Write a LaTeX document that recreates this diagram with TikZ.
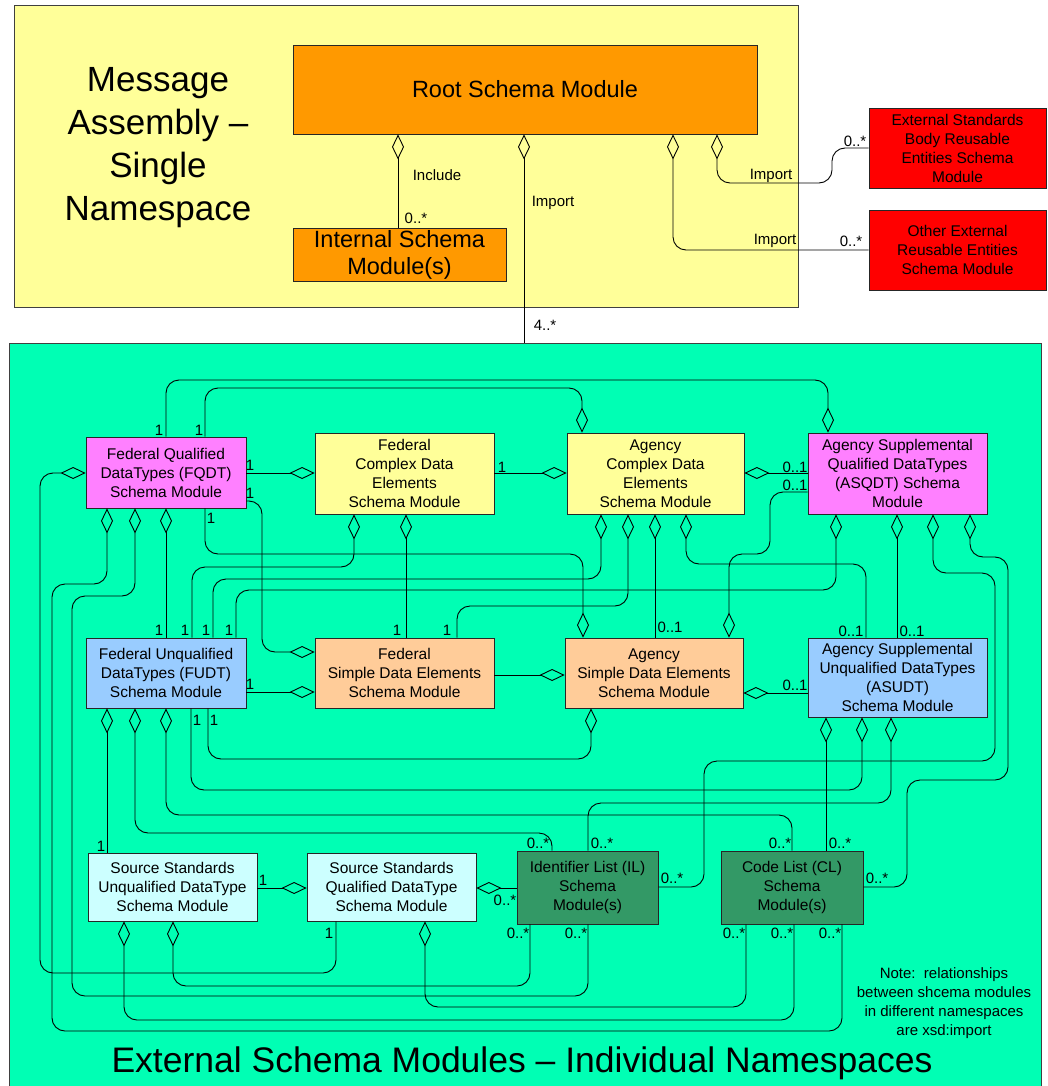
\documentclass[tikz,border=0pt]{standalone}
\usepackage{fontspec}
\setmainfont{Liberation Sans}
\usetikzlibrary{arrows.meta}
\definecolor{topbg}{RGB}{255,255,153}
\definecolor{grn}{RGB}{0,255,180}
\definecolor{mag}{RGB}{255,128,255}
\definecolor{lyel}{RGB}{255,255,153}
\definecolor{peach}{RGB}{255,204,153}
\definecolor{lblue}{RGB}{153,204,255}
\definecolor{lcyan}{RGB}{204,255,255}
\definecolor{dgreen}{RGB}{51,153,102}
\definecolor{orng}{RGB}{255,153,0}
\definecolor{rred}{RGB}{255,0,0}
\begin{document}
\begin{tikzpicture}[x=1pt,y=-1pt,
  frame/.style={draw=black!75, line width=0.8pt, inner sep=0pt},
  box/.style={draw=black!85, line width=0.8pt, inner sep=1pt, align=center, font=\fontsize{15.5}{19}\selectfont},
  lbl/.style={inner sep=0pt, font=\fontsize{15}{18}\selectfont},
  conn/.style={draw=black, line width=0.9pt, rounded corners=13pt},
  agg/.style={conn, {Diamond[open,length=25pt,width=12pt]}-}
]
\useasboundingbox (0,0) rectangle (1047,1086);

% frames
\node[frame, fill=topbg, minimum width=784pt, minimum height=302pt] (topframe) at (406,156) {};
\node[frame, fill=grn, minimum width=1032pt, minimum height=749pt] (extframe) at (525,717.5) {};

\node[align=center, inner sep=0pt, font=\fontsize{35}{43}\selectfont] (ttltop) at (158,148) {Message\\Assembly --\\Single\\Namespace};
\node[inner sep=0pt, font=\fontsize{35.5}{40}\selectfont] (ttlbot) at (522,1063) {External Schema Modules -- Individual Namespaces};
\node[align=center, inner sep=0pt, font=\fontsize{15}{19.2}\selectfont] (note) at (944,1003) {Note:\ \ relationships\\between shcema modules\\in different namespaces\\are xsd:import};

% top boxes
\node[box, fill=orng, minimum width=464pt, minimum height=89pt, font=\fontsize{23.5}{27}\selectfont] (root) at (525,89.5) {Root Schema Module};
\node[box, fill=orng, minimum width=213pt, minimum height=53pt, font=\fontsize{23.5}{27}\selectfont] (internal) at (399.5,254.5) {Internal Schema\\Module(s)};
\node[box, fill=rred, minimum width=177pt, minimum height=80pt] (ext1) at (957.5,148) {External Standards\\Body Reusable\\Entities Schema\\Module};
\node[box, fill=rred, minimum width=177pt, minimum height=80pt] (ext2) at (957.5,250) {Other External\\Reusable Entities\\Schema Module};

% lower boxes
\node[box, fill=mag, minimum width=160pt, minimum height=71pt] (fqdt) at (166,472.5) {Federal Qualified\\DataTypes (FQDT)\\Schema Module};
\node[box, fill=lyel, minimum width=179pt, minimum height=81pt] (fedc) at (404.5,473.5) {Federal\\Complex Data\\Elements\\Schema Module};
\node[box, fill=lyel, minimum width=177pt, minimum height=81pt] (agc) at (655.5,473.5) {Agency\\Complex Data\\Elements\\Schema Module};
\node[box, fill=mag, minimum width=179pt, minimum height=81pt] (asqdt) at (897.5,473.5) {Agency Supplemental\\Qualified DataTypes\\(ASQDT) Schema\\Module};
\node[box, fill=lblue, minimum width=160pt, minimum height=70pt] (fudt) at (166,673) {Federal Unqualified\\DataTypes (FUDT)\\Schema Module};
\node[box, fill=peach, minimum width=179pt, minimum height=70pt] (feds) at (404.5,673) {Federal\\Simple Data Elements\\Schema Module};
\node[box, fill=peach, minimum width=178pt, minimum height=70pt] (ags) at (654,673) {Agency\\Simple Data Elements\\Schema Module};
\node[box, fill=lblue, minimum width=179pt, minimum height=79pt] (asudt) at (897.5,677.5) {Agency Supplemental\\Unqualified DataTypes\\(ASUDT)\\Schema Module};
\node[box, fill=lcyan, minimum width=169pt, minimum height=68pt] (ssudt) at (172.5,887) {Source Standards\\Unqualified DataType\\Schema Module};
\node[box, fill=lcyan, minimum width=169pt, minimum height=68pt] (ssqdt) at (391.5,887) {Source Standards\\Qualified DataType\\Schema Module};
\node[box, fill=dgreen, minimum width=141pt, minimum height=73pt] (il) at (587.5,887.5) {Identifier List (IL)\\Schema\\Module(s)};
\node[box, fill=dgreen, minimum width=142pt, minimum height=73pt] (cl) at (792,887.5) {Code List (CL)\\Schema\\Module(s)};

% top connectors
\draw[agg] (root.south -| 398,0) -- (internal.north -| 398,0);
\draw[agg] (root.south -| 524,0) -- (extframe.north -| 524,0);
\draw[agg] (root.south -| 717,0) -- (717,183) -- (832,183) -- (832,148) -- (ext1.west |- 0,148);
\draw[agg] (root.south -| 673,0) -- (673,250) -- (ext2.west |- 0,250);
\node[lbl] (tInc) at (437,175) {Include};
\node[lbl] (tIncM) at (416,218) {0..*};
\node[lbl] (tImp) at (553,203) {Import};
\node[lbl] (tImpM) at (545,325) {4..*};
\node[lbl] (tImp1) at (771,176) {Import};
\node[lbl] (tImp1M) at (855,141) {0..*};
\node[lbl] (tImp2) at (775,241) {Import};
\node[lbl] (tImp2M) at (851,241) {0..*};

% lower connectors
\draw[agg] (asqdt.north -| 828,0) -- (828,380) -- (166,380) -- (fqdt.north -| 166,0);
\draw[agg] (agc.north -| 582,0) -- (582,388) -- (205,388) -- (fqdt.north -| 205,0);
\draw[agg] (fedc.west |- 0,473) -- (fqdt.east |- 0,473);
\draw[agg] (agc.west |- 0,473) -- (fedc.east |- 0,473);
\draw[agg] (agc.east |- 0,473) -- (asqdt.west |- 0,473);
\draw[agg] (ags.north -| 729,0) -- (729,554) -- (770,554) -- (770,492) -- (asqdt.west |- 0,492);
\draw[agg] (feds.west |- 0,652) -- (262,652) -- (262,501) -- (fqdt.east |- 0,501);
\draw[agg] (fqdt.west |- 0,473) -- (40,473) -- (40,973) -- (336,973) -- (ssqdt.south -| 336,0);
\draw[agg] (fqdt.south -| 166,0) -- (fudt.north -| 166,0);
\draw[agg] (fqdt.south -| 107,0) -- (107,584) -- (52,584) -- (52,1031) -- (842,1031) -- (cl.south -| 842,0);
\draw[agg] (fqdt.south -| 135,0) -- (135,596) -- (72,596) -- (72,996) -- (588,996) -- (il.south -| 588,0);
\draw[agg] (ags.north -| 583,0) -- (583,554) -- (205,554) -- (fqdt.south -| 205,0);
\draw[agg] (fedc.south -| 406,0) -- (feds.north -| 406,0);
\draw[agg] (fedc.south -| 354,0) -- (354,567) -- (192,567) -- (fudt.north -| 192,0);
\draw[agg] (agc.south -| 601,0) -- (601,579) -- (213,579) -- (fudt.north -| 213,0);
\draw[agg] (asqdt.south -| 836,0) -- (836,590) -- (236,590) -- (fudt.north -| 236,0);
\draw[agg] (agc.south -| 628,0) -- (628,606) -- (457,606) -- (feds.north -| 457,0);
\draw[agg] (agc.south -| 655,0) -- (ags.north -| 655,0);
\draw[agg] (agc.south -| 686,0) -- (686,564) -- (866,564) -- (asudt.north -| 866,0);
\draw[agg] (asqdt.south -| 897,0) -- (asudt.north -| 897,0);
\draw[agg] (asqdt.south -| 933,0) -- (933,573) -- (995,573) -- (995,761) -- (704,761) -- (704,887) -- (il.east |- 0,887);
\draw[agg] (asqdt.south -| 970,0) -- (970,557) -- (1008,557) -- (1008,780) -- (907,780) -- (907,887) -- (cl.east |- 0,887);
\draw[agg] (feds.west |- 0,692) -- (fudt.east |- 0,692);
\draw[agg] (ags.south -| 591,0) -- (591,759) -- (208,759) -- (fudt.south -| 208,0);
\draw[agg] (asudt.south -| 862,0) -- (862,790) -- (191,790) -- (fudt.south -| 191,0);
\draw[agg] (asudt.south -| 891,0) -- (891,803) -- (588,803) -- (il.north -| 588,0);
\draw[agg] (fudt.south -| 166,0) -- (166,815) -- (792,815) -- (cl.north -| 792,0);
\draw[agg] (asudt.south -| 826,0) -- (cl.north -| 826,0);
\draw[agg] (fudt.south -| 135,0) -- (135,833) -- (552,833) -- (il.north -| 552,0);
\draw[agg] (fudt.south -| 107,0) -- (ssudt.north -| 107,0);
\draw[agg] (ags.east |- 0,693) -- (asudt.west |- 0,693);
\draw[agg] (ags.west |- 0,675) -- (feds.east |- 0,675);
\draw[agg] (ssqdt.west |- 0,888) -- (ssudt.east |- 0,888);
\draw[agg] (ssqdt.east |- 0,888) -- (il.west |- 0,888);
\draw[agg] (ssudt.south -| 173,0) -- (173,986) -- (530,986) -- (il.south -| 530,0);
\draw[agg] (ssqdt.south -| 425,0) -- (425,1007) -- (746,1007) -- (cl.south -| 746,0);
\draw[agg] (ssudt.south -| 124,0) -- (124,1020) -- (794,1020) -- (cl.south -| 794,0);

% multiplicity labels
\node[lbl] (m1) at (159,430) {1};
\node[lbl] (m2) at (199,430) {1};
\node[lbl] (m3) at (250,465) {1};
\node[lbl] (m4) at (250,493) {1};
\node[lbl] (m5) at (502,467) {1};
\node[lbl] (m6) at (795,467) {0..1};
\node[lbl] (m7) at (795,485) {0..1};
\node[lbl] (m8) at (211,518) {1};
\node[lbl] (m9) at (159,630) {1};
\node[lbl] (m10) at (185,630) {1};
\node[lbl] (m11) at (206,630) {1};
\node[lbl] (m12) at (229,630) {1};
\node[lbl] (m13) at (397,630) {1};
\node[lbl] (m14) at (447,630) {1};
\node[lbl] (m15) at (670,627) {0..1};
\node[lbl] (m16) at (851,631) {0..1};
\node[lbl] (m17) at (912,631) {0..1};
\node[lbl] (m18) at (250,684) {1};
\node[lbl] (m19) at (795,685) {0..1};
\node[lbl] (m20) at (197,720) {1};
\node[lbl] (m21) at (214,720) {1};
\node[lbl] (m22) at (101,846) {1};
\node[lbl] (m23) at (263,880) {1};
\node[lbl] (m24) at (505,900) {0..*};
\node[lbl] (m25) at (538,843) {0..*};
\node[lbl] (m26) at (602,843) {0..*};
\node[lbl] (m27) at (672,878) {0..*};
\node[lbl] (m28) at (780,843) {0..*};
\node[lbl] (m29) at (840,843) {0..*};
\node[lbl] (m30) at (877,878) {0..*};
\node[lbl] (m31) at (329,933) {1};
\node[lbl] (m32) at (518,933) {0..*};
\node[lbl] (m33) at (576,933) {0..*};
\node[lbl] (m34) at (734,933) {0..*};
\node[lbl] (m35) at (782,933) {0..*};
\node[lbl] (m36) at (830,933) {0..*};
\end{tikzpicture}
\end{document}
